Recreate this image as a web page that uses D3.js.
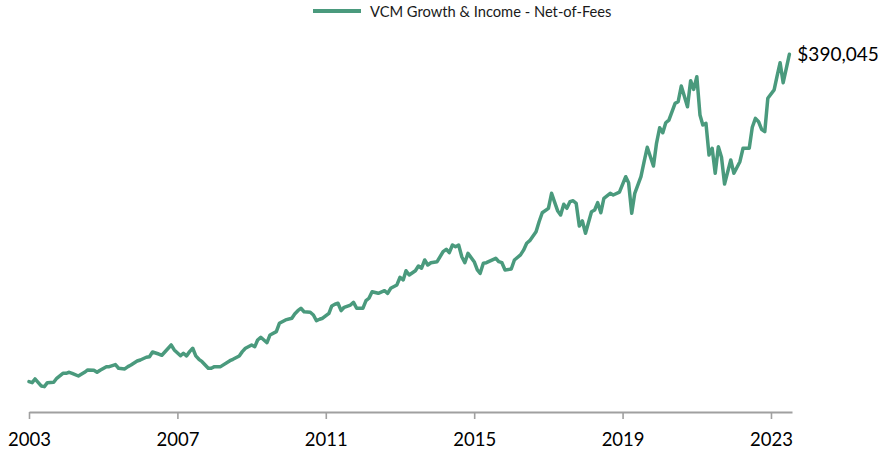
<!DOCTYPE html>
<html>
<head>
<meta charset="utf-8">
<script src="https://cdn.jsdelivr.net/npm/d3@7"></script>
<style>
  html, body { margin: 0; padding: 0; background: #ffffff; }
  svg { display: block; }
</style>
</head>
<body>
<svg id="chart" width="896" height="453"></svg>
<script>
// ---- data (month-end values, growth of $100,000) ----
const seriesName = "VCM Growth & Income - Net-of-Fees";
const endLabel = "$390,045";
const tickYears = [2003, 2007, 2011, 2015, 2019, 2023];
const months = [
"2002-12","2003-01","2003-02","2003-04","2003-05","2003-06","2003-08","2003-09","2003-11","2003-12",
"2004-01","2004-02","2004-04","2004-06","2004-07","2004-09","2004-10","2004-11",
"2005-01","2005-02","2005-04","2005-05","2005-07","2005-08","2005-09","2005-11","2005-12",
"2006-02","2006-03","2006-04","2006-06","2006-07","2006-10","2006-11",
"2007-01","2007-02","2007-03","2007-04","2007-05","2007-06","2007-07","2007-08","2007-10","2007-11","2007-12",
"2008-02","2008-05","2008-06","2008-08","2008-09","2008-10","2008-12",
"2009-01","2009-02","2009-03","2009-05","2009-06","2009-08","2009-09","2009-11",
"2010-01","2010-02","2010-03","2010-04","2010-05","2010-07","2010-08","2010-09","2010-10","2010-11",
"2011-01","2011-02","2011-03","2011-04","2011-05","2011-06","2011-08","2011-09","2011-10","2011-12",
"2012-01","2012-02","2012-03","2012-05","2012-07","2012-08","2012-09","2012-11","2012-12",
"2013-01","2013-02","2013-03","2013-05","2013-06","2013-07","2013-08","2013-09","2013-10","2013-12",
"2014-02","2014-03","2014-04","2014-05","2014-06","2014-07","2014-08","2014-09","2014-10","2014-12",
"2015-01","2015-02","2015-03","2015-04","2015-07","2015-08","2015-09","2015-10","2015-12",
"2016-01","2016-03","2016-04","2016-05","2016-06","2016-08","2016-09","2016-10","2016-12",
"2017-01","2017-02","2017-03","2017-04","2017-05","2017-06","2017-07","2017-08","2017-09","2017-10","2017-11","2017-12",
"2018-02","2018-03","2018-04","2018-05","2018-06","2018-08","2018-09","2018-11",
"2019-01","2019-02","2019-03","2019-04","2019-06","2019-07","2019-08","2019-10","2019-11","2019-12",
"2020-01","2020-02","2020-03","2020-05","2020-06","2020-07","2020-09","2020-10","2020-11","2020-12",
"2021-01","2021-02","2021-03","2021-04","2021-05","2021-06","2021-07","2021-08","2021-09","2021-11","2021-12",
"2022-02","2022-03","2022-05","2022-06","2022-07","2022-08","2022-09","2022-10","2022-11",
"2023-01","2023-02","2023-03","2023-04","2023-05","2023-06"
];
const values = [
100000,99100,102400,96200,95600,99100,99500,103000,107400,107400,
108300,107400,105000,108300,110400,110100,108300,110100,
113300,113300,115100,111900,111300,113300,114800,118300,119200,
121600,122100,126300,124500,123400,132500,128100,
123000,125200,122800,126600,129600,122800,119800,117700,111900,111900,113300,
113300,118600,119800,122800,126600,129600,132500,
131000,136900,139300,134500,141400,144300,151700,154700,
156200,160000,162900,165000,162000,161500,159100,154000,155300,156200,
160600,167100,168600,169500,162900,165900,167900,170300,165000,165000,
171800,173900,179700,178300,180600,178300,182700,185700,192500,
190100,198300,194500,198300,202500,200500,207800,203400,205400,206300,
215200,217300,214300,221100,219600,221100,210700,205400,213700,206300,
199000,196000,204900,205400,209300,206300,205400,199000,199800,
207800,212300,216500,222600,224900,232900,241700,249700,253600,
266900,259500,251500,247700,257200,253600,259500,260300,258000,237900,242400,231500,
250600,252100,258600,249700,262500,266900,265400,267900,
281600,276300,249200,266900,281600,294900,307700,291100,311200,325000,
320600,329400,331800,346600,348000,361900,343600,366700,359000,370200,
336300,327400,328900,300800,306800,284600,308200,298800,275100,296400,284600,
294900,306800,306800,325400,333300,330300,323600,321500,351100,
358500,370200,382600,364900,377600,390045
];

// ---- drawing ----
const lineColor = "#4a9a7d";
const axisColor = "#a0a0a0";
const font = "Lato, 'Open Sans', sans-serif";

const parseMonth = d3.timeParse("%Y-%m");
// month-end values: place at the start of the following month
const data = months.map((m, i) => ({ date: d3.timeMonth.offset(parseMonth(m), 1), value: values[i] }));

const svg = d3.select("#chart");

const x = d3.scaleTime()
  .domain([new Date(2003, 0, 1), new Date(2023, 6, 27)])
  .range([29, 792]);
const y = d3.scaleLinear()
  .domain([74000, 398300])
  .range([411, 45]);

// x axis
const xAxis = d3.axisBottom(x)
  .tickValues(tickYears.map(yr => new Date(yr, 0, 1)))
  .tickFormat(d3.timeFormat("%Y"))
  .tickSizeOuter(0)
  .tickSizeInner(7)
  .tickPadding(14);

const gx = svg.append("g")
  .attr("transform", "translate(0,412)")
  .call(xAxis);
gx.select(".domain").attr("stroke", axisColor).attr("stroke-width", 2);
gx.selectAll(".tick line").attr("stroke", axisColor).attr("stroke-width", 1.6);
gx.selectAll(".tick text")
  .attr("fill", "#000")
  .style("font-family", font)
  .style("font-size", "18.5px");

// line
const line = d3.line()
  .x(d => x(d.date))
  .y(d => y(d.value))
  .curve(d3.curveLinear);

svg.append("path")
  .datum(data)
  .attr("fill", "none")
  .attr("stroke", lineColor)
  .attr("stroke-width", 3.5)
  .attr("stroke-linejoin", "round")
  .attr("stroke-linecap", "round")
  .attr("d", line);

// end label
const last = data[data.length - 1];
svg.append("text")
  .attr("x", x(last.date) + 8)
  .attr("y", y(last.value) + 7)
  .attr("fill", "#000")
  .style("font-family", font)
  .style("font-size", "19px")
  .text(endLabel);

// legend
const lg = svg.append("g");
lg.append("line")
  .attr("x1", 313).attr("x2", 361)
  .attr("y1", 11).attr("y2", 11)
  .attr("stroke", lineColor)
  .attr("stroke-width", 4);
lg.append("text")
  .attr("x", 370)
  .attr("y", 16.5)
  .attr("fill", "#1a1a1a")
  .style("font-family", font)
  .style("font-size", "14.7px")
  .text(seriesName);
</script>
</body>
</html>
